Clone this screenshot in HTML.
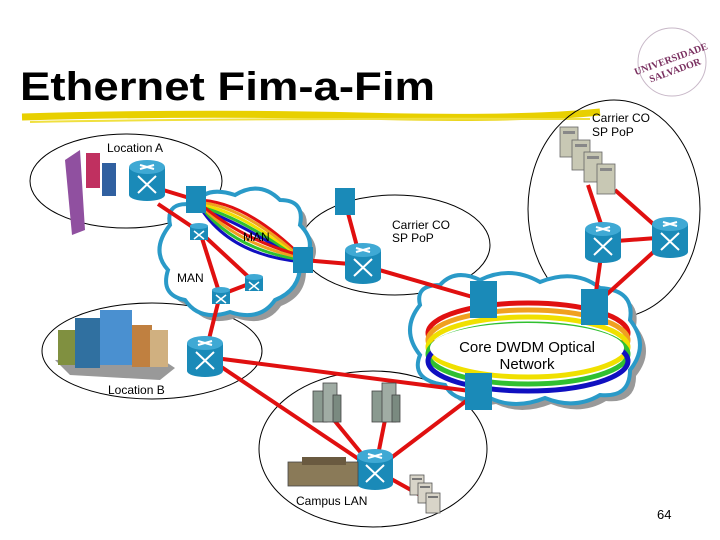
<!DOCTYPE html>
<html><head><meta charset="utf-8"><style>
html,body{margin:0;padding:0;background:#fff;}
svg{display:block;font-family:"Liberation Sans",Arial,sans-serif;}
</style></head><body>
<svg width="720" height="540" viewBox="0 0 720 540" xmlns="http://www.w3.org/2000/svg">
<defs>
<g id="rt">
 <rect x="-18" y="-13" width="36" height="28" fill="#1a8ab8"/>
 <ellipse cx="0" cy="15" rx="18" ry="6" fill="#1a8ab8"/>
 <ellipse cx="0" cy="-13" rx="18" ry="7" fill="#3fa9d4"/>
 <path d="M-9 -4 L9 13 M9 -4 L-9 13 M-7 -15 L7 -11 M7 -15 L-7 -11" stroke="#fff" stroke-width="2"/>
</g>
<g id="srt">
 <rect x="-9" y="-6" width="18" height="14" fill="#1a8ab8"/>
 <ellipse cx="0" cy="-6" rx="9" ry="3" fill="#3fa9d4"/>
 <path d="M-5 -1 L5 7 M5 -1 L-5 7" stroke="#fff" stroke-width="1.5"/>
</g>
<g id="srv">
 <rect x="0" y="0" width="14" height="20" fill="#d8d4c8" stroke="#555" stroke-width="0.8"/>
 <rect x="2" y="3" width="10" height="2" fill="#777"/>
</g>
<g id="bsrv">
 <rect x="0" y="0" width="18" height="30" fill="#c8c8b4" stroke="#666" stroke-width="0.8"/>
 <rect x="3" y="4" width="12" height="3" fill="#888"/>
</g>
<g id="bld">
 <rect x="0" y="8" width="14" height="31" fill="#8a9a90" stroke="#444" stroke-width="0.8"/>
 <rect x="10" y="0" width="14" height="39" fill="#a0aca4" stroke="#444" stroke-width="0.8"/>
 <rect x="20" y="12" width="8" height="27" fill="#7a8a80" stroke="#444" stroke-width="0.8"/>
</g>
</defs>

<!-- title -->
<text x="20" y="100" font-size="40" font-weight="bold" fill="#000" textLength="415" lengthAdjust="spacingAndGlyphs">Ethernet Fim-a-Fim</text>
<path d="M22 117 Q200 112 360 116 T600 112" stroke="#e8d000" stroke-width="7" fill="none"/>
<path d="M30 122 Q250 118 590 119" stroke="#f0e040" stroke-width="2" fill="none"/>
<!-- logo -->
<circle cx="672" cy="62" r="34" fill="none" stroke="#c8b8c8" stroke-width="1"/>
<text x="672" y="62" font-size="10" font-weight="bold" fill="#7a3060" font-family="Liberation Serif,serif" text-anchor="middle" transform="rotate(-20 672 62)">UNIVERSIDADE</text>
<text x="672" y="74" font-size="10" font-weight="bold" fill="#7a3060" font-family="Liberation Serif,serif" text-anchor="middle" transform="rotate(-20 672 62)">SALVADOR</text>

<!-- ellipses -->
<ellipse cx="126" cy="181" rx="96" ry="47" fill="none" stroke="#000" stroke-width="1"/>
<ellipse cx="614" cy="209" rx="86" ry="109" fill="none" stroke="#000" stroke-width="1"/>
<ellipse cx="395" cy="245" rx="95" ry="50" fill="none" stroke="#000" stroke-width="1"/>
<ellipse cx="152" cy="351" rx="110" ry="48" fill="none" stroke="#000" stroke-width="1"/>
<ellipse cx="373" cy="449" rx="114" ry="78" fill="none" stroke="#000" stroke-width="1"/>

<!-- MAN cloud -->
<g>
<path d="M170 225 Q165 200 195 205 Q205 185 235 195 Q260 180 280 200 Q305 200 300 225 Q320 245 300 265 Q300 290 275 300 Q260 322 230 312 Q200 322 185 300 Q160 295 168 270 Q150 250 170 225Z" fill="#999" transform="translate(6,6)"/>
<path d="M170 225 Q165 200 195 205 Q205 185 235 195 Q260 180 280 200 Q305 200 300 225 Q320 245 300 265 Q300 290 275 300 Q260 322 230 312 Q200 322 185 300 Q160 295 168 270 Q150 250 170 225Z" fill="#fff" stroke="#2a9ac8" stroke-width="4"/>
</g>
<!-- Core cloud -->
<g>
<path d="M420 305 Q415 285 440 285 Q455 268 480 280 Q510 265 540 282 Q575 268 600 288 Q635 290 630 320 Q650 345 630 370 Q630 398 600 395 Q575 410 545 398 Q515 410 490 398 Q455 405 445 385 Q410 380 420 355 Q400 330 420 305Z" fill="#999" transform="translate(6,6)"/>
<path d="M420 305 Q415 285 440 285 Q455 268 480 280 Q510 265 540 282 Q575 268 600 288 Q635 290 630 320 Q650 345 630 370 Q630 398 600 395 Q575 410 545 398 Q515 410 490 398 Q455 405 445 385 Q410 380 420 355 Q400 330 420 305Z" fill="#fff" stroke="#2a9ac8" stroke-width="4"/>
</g>

<!-- red links -->
<g stroke="#e01010" stroke-width="4" fill="none">
<line x1="150" y1="186" x2="196" y2="200"/>
<line x1="158" y1="204" x2="200" y2="232"/>
<line x1="200" y1="232" x2="220" y2="295"/>
<line x1="200" y1="232" x2="254" y2="282"/>
<line x1="220" y1="295" x2="254" y2="282"/>
<line x1="220" y1="295" x2="205" y2="355"/>
<line x1="303" y1="260" x2="362" y2="265"/>
<line x1="345" y1="202" x2="362" y2="265"/>
<line x1="362" y1="265" x2="483" y2="300"/>
<line x1="594" y1="306" x2="603" y2="242"/>
<line x1="594" y1="306" x2="670" y2="237"/>
<line x1="603" y1="242" x2="670" y2="237"/>
<line x1="588" y1="185" x2="603" y2="230"/>
<line x1="615" y1="190" x2="660" y2="230"/>
<line x1="215" y1="358" x2="478" y2="392"/>
<line x1="205" y1="356" x2="375" y2="470"/>
<line x1="478" y1="392" x2="375" y2="470"/>
<line x1="375" y1="470" x2="334" y2="420"/>
<line x1="375" y1="470" x2="385" y2="420"/>
<line x1="375" y1="470" x2="420" y2="495"/>
</g>

<!-- MAN rainbow -->
<g fill="none" stroke-width="3">
<path d="M196 200 Q245 200 303 258" stroke="#e01010"/>
<path d="M196 202 Q244 205 303 260" stroke="#f0a020"/>
<path d="M196 204 Q242 210 303 262" stroke="#f0e000"/>
<path d="M196 206 Q240 215 303 263" stroke="#30c030"/>
<path d="M196 208 Q238 220 303 264" stroke="#1010c0"/>
<path d="M196 200 Q225 255 303 262" stroke="#1010c0"/>
<path d="M196 200 Q230 250 303 260" stroke="#30c030"/>
<path d="M196 200 Q235 245 303 258" stroke="#f0a020"/>
<path d="M196 200 Q240 240 303 256" stroke="#e01010"/>
</g>

<!-- Core rainbow ring -->
<g fill="none" stroke-width="5">
<ellipse cx="528" cy="333" rx="100" ry="30" stroke="#e01010"/>
<ellipse cx="528" cy="340" rx="100" ry="30" stroke="#f0a020"/>
<ellipse cx="528" cy="347" rx="100" ry="30" stroke="#f0e000"/>
<ellipse cx="528" cy="354" rx="100" ry="30" stroke="#30c030"/>
<ellipse cx="528" cy="361" rx="100" ry="30" stroke="#1010c0"/>
</g>
<ellipse cx="527" cy="348" rx="97" ry="25" fill="#fff"/>
<text x="527" y="352" font-size="15" text-anchor="middle">Core DWDM Optical</text>
<text x="527" y="369" font-size="15" text-anchor="middle">Network</text>

<!-- blue squares -->
<g fill="#1a8ab8">
<rect x="186" y="186" width="20" height="27"/>
<rect x="293" y="247" width="20" height="26"/>
<rect x="335" y="188" width="20" height="27"/>
<rect x="470" y="281" width="27" height="37"/>
<rect x="581" y="289" width="27" height="36"/>
<rect x="465" y="373" width="27" height="37"/>
</g>

<!-- routers -->
<use href="#rt" x="147" y="180"/>
<use href="#rt" x="363" y="263"/>
<use href="#rt" x="603" y="242"/>
<use href="#rt" x="670" y="237"/>
<use href="#rt" x="205" y="356"/>
<use href="#rt" x="375" y="469"/>
<use href="#srt" x="199" y="232"/>
<use href="#srt" x="254" y="283"/>
<use href="#srt" x="221" y="296"/>

<!-- servers -->
<use href="#bsrv" x="560" y="127"/><use href="#bsrv" x="572" y="140"/><use href="#bsrv" x="584" y="152"/><use href="#bsrv" x="597" y="164"/>
<use href="#srv" x="410" y="475"/><use href="#srv" x="418" y="483"/><use href="#srv" x="426" y="493"/>

<!-- buildings -->
<use href="#bld" x="313" y="383"/>
<use href="#bld" x="372" y="383"/>
<g>
<rect x="288" y="462" width="70" height="24" fill="#8a7a58" stroke="#444" stroke-width="0.8"/>
<rect x="302" y="457" width="44" height="8" fill="#6a5a40"/>
<path d="M65 160 L80 150 L85 230 L72 235Z" fill="#9050a0"/>
<rect x="86" y="153" width="14" height="35" fill="#c03060"/>
<rect x="102" y="163" width="14" height="33" fill="#3060a0"/>
<path d="M55 360 L70 375 L160 380 L175 368 L160 358Z" fill="#999"/>
<rect x="58" y="330" width="20" height="35" fill="#809040"/>
<rect x="75" y="318" width="25" height="50" fill="#3070a0"/>
<rect x="100" y="310" width="32" height="55" fill="#4a90d0"/>
<rect x="132" y="325" width="20" height="42" fill="#c08040"/>
<rect x="150" y="330" width="18" height="37" fill="#d0b080"/>
</g>

<!-- labels -->
<g font-size="12" fill="#000">
<text x="107" y="152">Location A</text>
<text x="243" y="241">MAN</text>
<text x="177" y="282">MAN</text>
<text x="392" y="229">Carrier CO</text>
<text x="392" y="242">SP PoP</text>
<text x="592" y="122">Carrier CO</text>
<text x="592" y="136">SP PoP</text>
<text x="108" y="394">Location B</text>
<text x="296" y="505">Campus LAN</text>
<text x="657" y="519" font-size="13">64</text>
</g>
</svg>
</body></html>
